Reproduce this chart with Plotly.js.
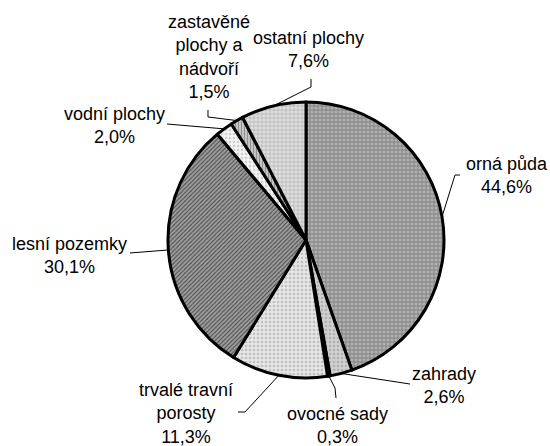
<!DOCTYPE html>
<html>
<head>
<meta charset="utf-8">
<script src="https://cdn.plot.ly/plotly-3.0.1.min.js"></script>
<style>html,body{margin:0;padding:0;background:#fff;}</style>
</head>
<body>
<div id="chart" style="width:550px;height:446px;"></div>
<script>
// ---- data ----
var categories = ["orná půda", "zahrady", "ovocné sady", "trvalé travní porosty", "lesní pozemky", "vodní plochy", "zastavěné plochy a nádvoří", "ostatní plochy"];
var labelLines = ["orná půda", "zahrady", "ovocné sady", "trvalé travní<br>porosty", "lesní pozemky", "vodní plochy", "zastavěné<br>plochy a<br>nádvoří", "ostatní plochy"];
var shares = [44.6, 2.6, 0.3, 11.3, 30.1, 2.0, 1.5, 7.6];

// ---- styling / layout ----
var W = 550, H = 446;
var CX = 306, CY = 240, R = 138;
var fills = ["#b0b0b0", "#d0d0d0", "#303030", "#e6e6e6", "#a0a0a0", "#f4f4f4", "#c4c4c4", "#e0e0e0"];
var patterns = ["+", ".", "", ".", "/", ".", "|", "+"];
var patFg = ["#7a7a7a", "#b0b0b0", "#000000", "#c0c0c0", "#4a4a4a", "#d0d0d0", "#909090", "#b4b4b4"];
var patSize = [4, 4, 4, 4, 3, 4, 3, 4];
var labelPos = [[507, 175], [444, 385], [337, 425], [186, 413], [70, 255], [114, 125], [209, 57], [308, 50]];
var elbows = [[[460, 175], [455, 175]], [[410, 384]], [[336, 398], [335, 388]], [[238, 412], [245, 412]], [[130, 253]], [[167, 124]], [[208, 110], [208, 117]], [[311, 79], [311, 87]]];

function px2x(x) { return x / W; }
function px2y(y) { return 1 - y / H; }
function fmt(v) { return v.toFixed(1).replace('.', ',') + '%'; }

var total = shares.reduce(function (a, b) { return a + b; }, 0);
var annotations = [], shapes = [];
var cum = 0;
for (var i = 0; i < shares.length; i++) {
  var mid = (cum + shares[i] / 2) / total * 2 * Math.PI;
  cum += shares[i];
  var ex = CX + R * Math.sin(mid), ey = CY - R * Math.cos(mid);
  var pts = elbows[i].concat([[ex, ey]]);
  var path = pts.map(function (p, k) { return (k ? 'L' : 'M') + px2x(p[0]).toFixed(5) + ',' + px2y(p[1]).toFixed(5); }).join(' ');
  shapes.push({ type: 'path', xref: 'paper', yref: 'paper', path: path, line: { color: '#000', width: 1 } });
  annotations.push({
    xref: 'paper', yref: 'paper', x: px2x(labelPos[i][0]), y: px2y(labelPos[i][1]),
    xanchor: 'center', yanchor: 'middle', showarrow: false, align: 'center',
    text: labelLines[i] + '<br>' + fmt(shares[i]),
    font: { family: 'Liberation Sans, Arial, sans-serif', size: 18, color: '#000' }
  });
}

var trace = {
  type: 'pie',
  labels: categories,
  values: shares,
  sort: false,
  direction: 'clockwise',
  rotation: 0,
  textinfo: 'none',
  hoverinfo: 'label+percent',
  domain: { x: [(CX - R) / W, (CX + R) / W], y: [(H - CY - R) / H, (H - CY + R) / H] },
  marker: {
    colors: fills,
    line: { color: '#000', width: 3 },
    pattern: { shape: patterns, fgcolor: patFg, bgcolor: fills, size: patSize, solidity: 0.35 }
  },
  showlegend: false
};

var layout = {
  width: W, height: H, autosize: false,
  margin: { l: 0, r: 0, t: 0, b: 0 },
  paper_bgcolor: '#fff',
  showlegend: false,
  annotations: annotations,
  shapes: shapes
};

Plotly.newPlot('chart', [trace], layout, { displayModeBar: false, staticPlot: true });
</script>
</body>
</html>
